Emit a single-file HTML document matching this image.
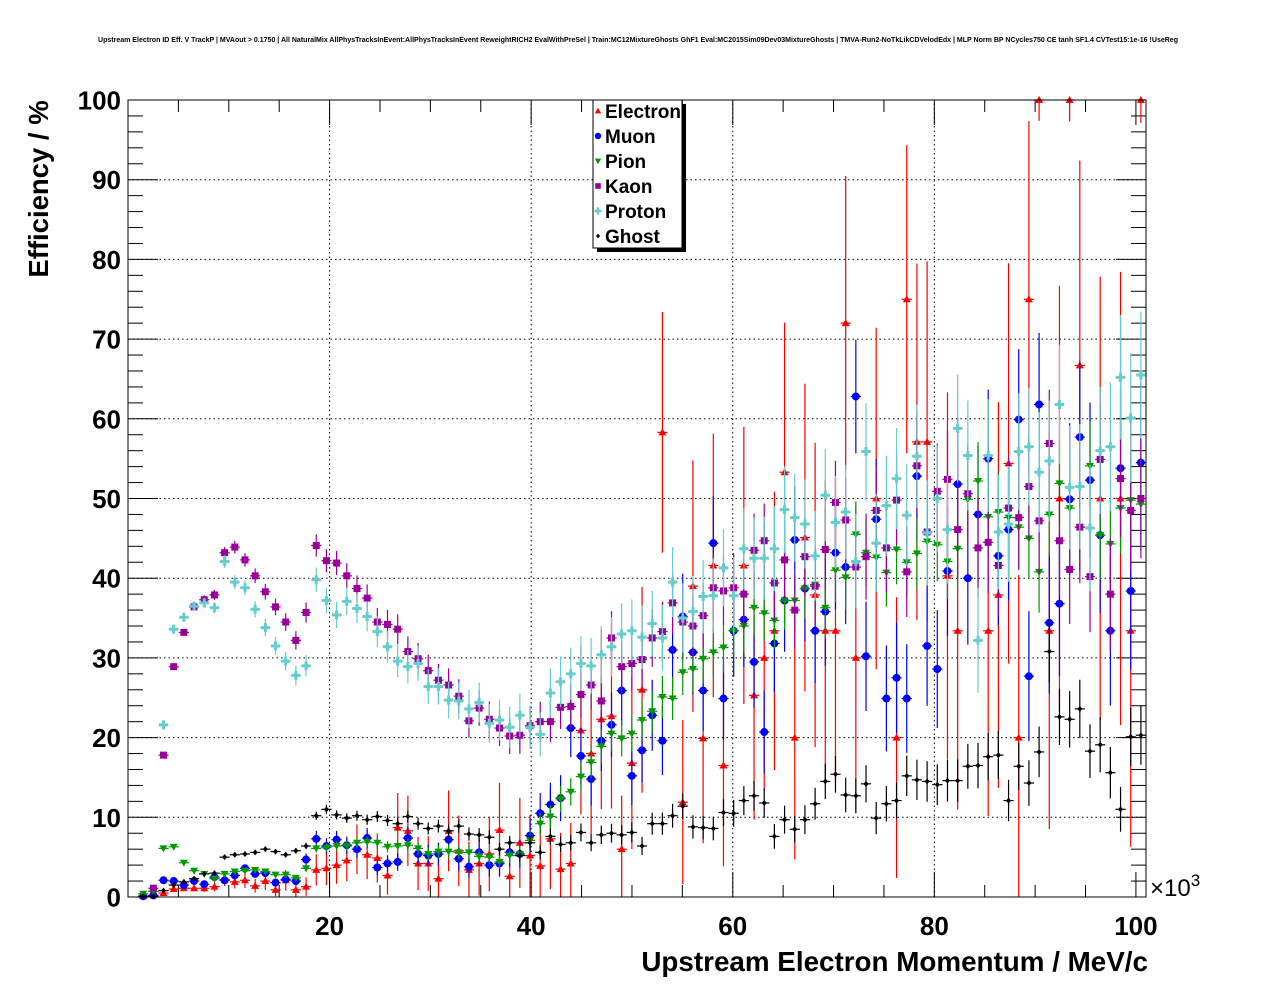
<!DOCTYPE html>
<html><head><meta charset="utf-8">
<style>
html,body{margin:0;padding:0;background:#fff;}
svg{display:block;font-family:"Liberation Sans",sans-serif;}
</style></head>
<body>
<svg id="chart" width="1276" height="996" viewBox="0 0 1276 996" xmlns="http://www.w3.org/2000/svg">
<rect x="0" y="0" width="1276" height="996" fill="#fff"/>
<text x="638" y="42" text-anchor="middle" font-size="7" font-weight="bold" textLength="1080" lengthAdjust="spacingAndGlyphs">Upstream Electron ID Eff. V TrackP | MVAout &gt; 0.1750 | All NaturalMix AllPhysTracksInEvent:AllPhysTracksInEvent ReweightRICH2 EvalWithPreSel | Train:MC12MixtureGhosts GhF1 Eval:MC2015Sim09Dev03MixtureGhosts | TMVA-Run2-NoTkLikCDVelodEdx | MLP Norm BP NCycles750 CE tanh SF1.4 CVTest15:1e-16 !UseReg</text>
<g id="grid"></g>
<g id="axes"></g>
<g id="series"></g>
<rect x="128" y="100" width="1018" height="797" fill="none" stroke="#000" stroke-width="1"/>
<text transform="translate(48,189) rotate(-90)" text-anchor="middle" font-size="27.5" font-weight="bold">Efficiency / %</text>
<text x="1148" y="971" text-anchor="end" font-size="27.8" font-weight="bold">Upstream Electron Momentum / MeV/c</text>
<text x="1150" y="896" font-size="24">×10<tspan font-size="17" dy="-10">3</tspan></text>
<g id="legend">
<rect x="597" y="104" width="89" height="148" fill="#000"/>
<rect x="593" y="100" width="89" height="148" fill="#fff" stroke="#000" stroke-width="1"/>
</g>
</svg>
<script>
// ---- data (bin values in %) ----
const seriesNames = ["Electron","Muon","Pion","Kaon","Proton","Ghost"];
const electronEff = [0.1,0.7,0.5,1.0,1.1,1.1,1.1,1.3,2.2,1.9,2.1,1.4,2.0,0.9,2.1,0.9,1.3,3.4,3.6,4.0,4.6,6.0,5.3,4.9,2.7,8.7,8.3,4.2,4.2,
 2.3,8.3,5.8,3.4,4.2,5.4,8.4,2.6,6.8,5.2,3.9,7.3,3.5,4.2,20.9,18.0,22.3,22.7,6.0,16.8,26.0,null,58.3,null,11.9,39.0,
 19.9,41.6,16.5,null,41.6,25.3,30,33.4,53.3,20,45.1,37.9,33.4,33.4,72,30,null,50,null,20,75,57.1,57.1,null,40.3,33.4,null,null,33.4,37.9,54.4,20,75,100,33.4,50,100,66.7,null,50,null,50,33.4,100];
const muonEff = [0.1,0.2,2.1,2.0,1.5,2.0,1.6,2.5,2.1,2.7,3.6,2.9,3.0,1.8,2.2,2.0,4.7,7.3,6.4,7.2,6.5,6.0,7.4,3.7,4.2,4.4,7.4,5.4,5.2,
 5.4,7.2,4.8,3.8,5.6,4.0,4.2,5.6,5.4,7.7,10.5,11.6,12.4,21.2,17.7,14.8,19.6,21.6,25.9,15.2,18.4,22.8,19.6,31.0,35.2,30.7,
 25.9,44.4,24.9,33.4,34.8,29.5,20.7,31.8,37.2,44.8,38.7,33.4,35.8,43.2,41.4,62.8,30.2,47.4,24.9,27.5,24.9,52.8,31.5,28.6,40.9,51.8,40,48.0,55.0,42.8,46.1,59.9,27.7,61.8,34.4,36.8,49.9,57.7,52.3,45.4,33.4,53.8,38.4,54.5];
const pionEff = [0.4,0.7,6.1,6.3,4.3,3.3,2.9,2.3,2.9,3.2,3.3,3.4,3.2,2.8,2.8,2.4,3.6,6.1,6.2,6.4,6.4,6.8,6.9,6.8,6.3,6.4,6.5,6.1,5.4,
 5.7,5.7,5.6,5.6,5.1,5.0,4.4,5.2,5.4,7.1,9.2,10.1,12.3,13.2,15.1,16.9,18.9,20.5,19.9,20.5,22.2,23.3,25.1,24.9,28.2,28.6,
 29.9,30.7,31.3,33.4,34.0,36.3,35.6,34.7,37.2,37.2,38.7,39.2,36.3,41.0,40.1,45.5,43.2,42.6,40.7,43.6,42.0,43.1,44.6,44.2,42.1,43.7,49.9,52.2,47.7,48.3,47.6,46.4,45,40.8,48.0,51.9,48.8,46.4,54.1,45.4,44.3,48.8,49.8,49.3];
const kaonEff = [null,1.1,17.8,28.9,33.2,36.4,37.3,37.9,43.2,43.9,42.3,40.3,38.3,36.4,34.5,32.2,35.7,44.1,42.2,41.9,40.3,38.7,37.5,34.5,34.2,33.6,30.8,29.9,28.4,
 27.2,26.6,25.2,22.1,23.7,22.3,21.2,20.2,20.3,21.5,22.0,22.0,23.8,23.9,25.4,26.6,24.6,32.5,28.9,29.3,29.8,32.5,33.3,36.9,34.5,34.0,
 35.3,38.8,38.4,38.8,38.0,43.5,44.7,39.4,42.3,36.0,42.7,39.0,43.6,49.5,47.3,41.4,42.7,48.5,43.8,49.8,40.8,54.1,45.8,50.9,52.4,46.1,50.6,43.8,44.5,41.6,48.8,47.6,51.5,47.2,56.9,44.7,41.1,46.4,40.2,54.9,38.0,52.5,48.5,50.0];
const protonEff = [null,null,21.6,33.6,35.1,36.5,36.9,36.3,42.1,39.5,38.8,36.1,33.8,31.5,29.6,27.8,29.0,39.8,37.2,35.4,37.1,36.2,35.2,33.3,31.4,29.6,28.9,29.3,26.4,
 26.4,24.7,24.6,23.6,24.4,21.8,22.2,21.3,22.8,21.3,20.4,25.6,27.0,28.0,29.3,29.0,30.4,31.4,33.0,33.4,32.6,34.3,32.5,39.5,35.0,35.8,
 37.7,37.8,41.3,37.8,43.7,42.5,42.5,43.7,48.6,47.6,46.8,42.8,50.4,47.0,48.3,42.1,55.9,44.4,49.1,52.5,47.9,55.3,45.7,50.0,46.1,58.8,55.4,32.2,55.4,45.8,46.8,55.9,56.5,53.3,54.7,61.8,51.4,51.5,46.3,56.0,56.5,65.2,60.1,65.5];
const ghostEff = [0.1,0.1,0.8,1.5,1.9,2.3,2.9,3.0,5.0,5.3,5.4,5.6,6.0,5.7,5.3,5.8,6.4,10.2,11.0,10.3,9.9,10.2,9.7,10.1,9.6,9.2,10.1,9.2,8.6,
 8.9,8.3,8.9,7.9,7.8,7.5,6.0,6.8,5.2,6.8,5.6,7.6,6.6,6.8,8.1,6.8,7.8,8.0,7.8,8.1,6.4,9.2,9.2,10.2,11.4,8.8,
 8.7,8.6,10.6,10.5,12.1,12.7,11.8,7.6,9.7,8.5,9.7,11.7,14.5,15.4,12.8,12.7,14.2,9.9,11.7,12.1,15.2,14.7,14.5,14.1,14.6,14.6,16.4,16.5,17.6,17.8,12.1,16.4,14.3,18.2,30.8,22.6,22.3,23.6,18.3,19.1,15.6,11.0,20.1,20.3];
// approximate track counts per bin scale (for error bars)
const countScale = [30000,240000,750000,450000,360000,1200000];
const xTickLabels = ["20","40","60","80","100"];
const yTickLabels = ["0","10","20","30","40","50","60","70","80","90","100"];
const binLo = 1, binHi = 101;

const NS="http://www.w3.org/2000/svg";
const X0=128,X1=1146,Y0=897,Y1=100, XMIN=0, XMAX=101;
function xs(v){return X0+(v-XMIN)/(XMAX-XMIN)*(X1-X0);}
function ys(v){return Y0-(v/100)*(Y0-Y1);}
function mk(tag,attrs,parent){const e=document.createElementNS(NS,tag);for(const k in attrs)e.setAttribute(k,attrs[k]);parent.appendChild(e);return e;}
const grid=document.getElementById('grid'), axes=document.getElementById('axes'), ser=document.getElementById('series');

yTickLabels.forEach((lab)=>{
  const v=+lab, y=ys(v);
  if(v>0&&v<100){const g=mk('line',{x1:X0,x2:X1,y1:y,y2:y,stroke:'#000','stroke-width':1,'stroke-dasharray':'1.5,3'},grid);
  
  }
  const t=mk('text',{x:121,y:y+9.5,'text-anchor':'end','font-size':26,'font-weight':'bold'},axes);
  t.textContent=lab;
  
  
});
for(let v=0;v<=100;v+=2){
  const y=ys(v), L=(v%10===0)?30:15;
  mk('line',{x1:X0,x2:X0+L,y1:y,y2:y,stroke:'#000','stroke-width':1},axes);
  mk('line',{x1:X1,x2:X1-L,y1:y,y2:y,stroke:'#000','stroke-width':1},axes);
}
xTickLabels.forEach((lab)=>{
  const v=+lab, x=xs(v);
  if(v<100){const g=mk('line',{x1:x,x2:x,y1:Y0,y2:Y1,stroke:'#000','stroke-width':1,'stroke-dasharray':'1.5,3'},grid);
  
  }
  const t=mk('text',{x:x,y:935,'text-anchor':'middle','font-size':26,'font-weight':'bold'},axes);
  t.textContent=lab;
  
  
});
for(let v=5;v<=100;v+=5){
  const x=xs(v), L=(v%20===0)?25:12;
  mk('line',{x1:x,x2:x,y1:Y0,y2:Y0-L,stroke:'#000','stroke-width':1},axes);
  mk('line',{x1:x,x2:x,y1:Y1,y2:Y1+L,stroke:'#000','stroke-width':1},axes);
}

const colors=['#ff0000','#0000ff','#009900','#990099','#66cccc','#000000'];
const allData=[electronEff,muonEff,pionEff,kaonEff,protonEff,ghostEff];
function marker(kind,x,y,c,p,sc){
  sc=sc||1;
  if(kind===0){return mk('polygon',{points:`${x},${y-4*sc} ${x-4*sc},${y+3*sc} ${x+4*sc},${y+3*sc}`,fill:c},p);}
  if(kind===1){return mk('circle',{cx:x,cy:y,r:4*sc,fill:c},p);}
  if(kind===2){return mk('polygon',{points:`${x},${y+4*sc} ${x-4*sc},${y-3*sc} ${x+4*sc},${y-3*sc}`,fill:c},p);}
  if(kind===3){return mk('rect',{x:x-3.5*sc,y:y-3.5*sc,width:7*sc,height:7*sc,fill:c},p);}
  if(kind===4){return mk('path',{d:`M${x-4.5*sc},${y}H${x+4.5*sc}M${x},${y-4.5*sc}V${y+4.5*sc}`,stroke:c,'stroke-width':3*sc},p);}
  return mk('polygon',{points:`${x},${y-3*sc} ${x-2.5*sc},${y} ${x},${y+3*sc} ${x+2.5*sc},${y}`,fill:c},p);
}
allData.forEach((arr,s)=>{
  const g=mk('g',{},ser);
  
  
  const n=arr.length, w=(binHi-binLo)/n;
  arr.forEach((v,k)=>{
    if(v===null)return;
    const c=binLo+(k+0.5)*w, x=xs(c), y=ys(v);
    const N=countScale[s]/(c*c);
    const err=Math.sqrt(Math.max(v*(100-v),25)/Math.max(N,1));
    const c1=colors[s];
    mk('line',{x1:x,x2:x,y1:ys(Math.min(100,v+err)),y2:ys(Math.max(0,v-err)),stroke:c1,'stroke-width':1.2},g);
    mk('line',{x1:xs(c-w/2),x2:xs(c+w/2),y1:y,y2:y,stroke:c1,'stroke-width':1.2},g);
    const m=marker(s,x,y,c1,g);
    
    
  });
});
const leg=document.getElementById('legend');
seriesNames.forEach((nm,i)=>{
  const y=111+i*25;
  const e=mk('g',{},leg);
  
  
  marker(i,598,y,colors[i],e,0.8);
  const t=mk('text',{x:605,y:y+7,'font-size':19,'font-weight':'bold'},e);
  t.textContent=nm;
});
</script>
</body></html>
